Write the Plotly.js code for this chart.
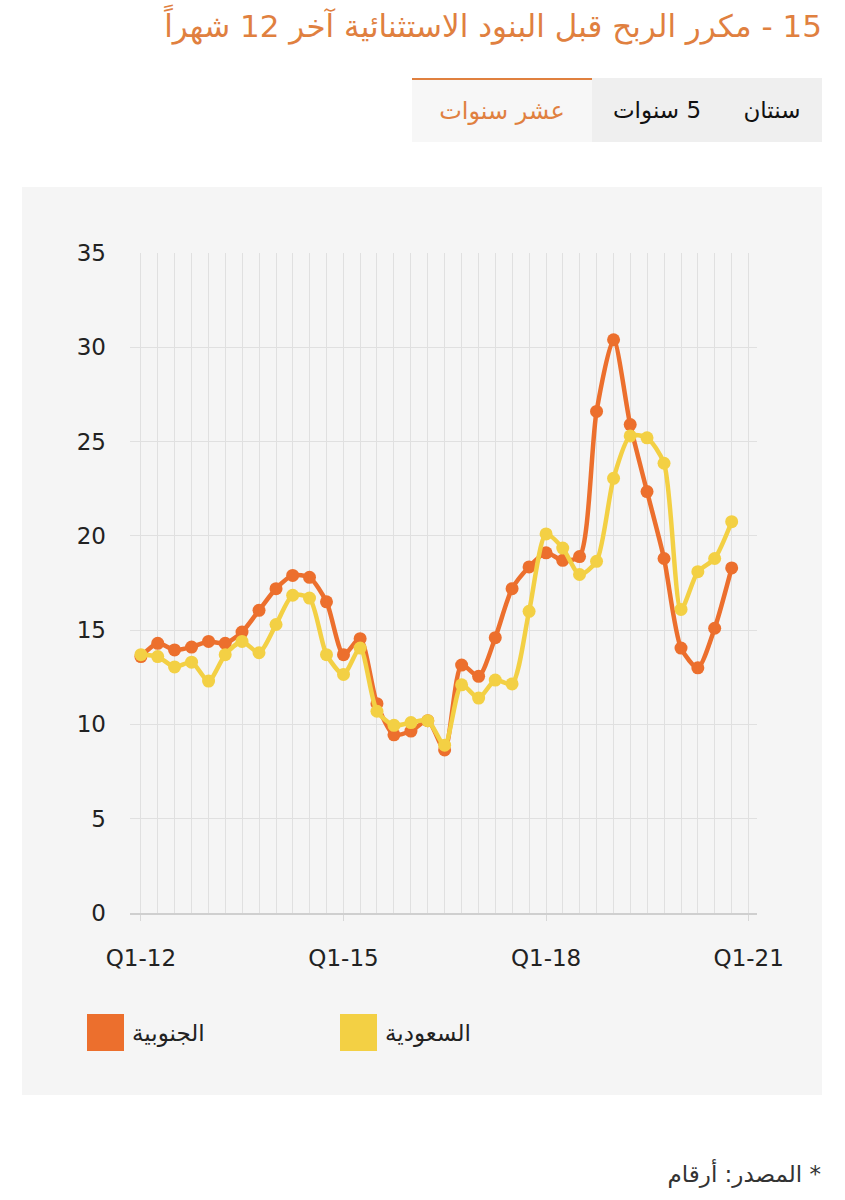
<!DOCTYPE html>
<html lang="ar">
<head>
<meta charset="utf-8">
<script src="https://cdn.plot.ly/plotly-3.0.1.min.js"></script>
<style>
  html, body { margin:0; padding:0; background:#ffffff; width:845px; height:1200px; overflow:hidden; font-family:"DejaVu Sans",sans-serif; }
  #title { position:absolute; right:23px; top:4px; width:820px; text-align:right; direction:rtl; color:#e0803f; font-size:31px; line-height:44px; white-space:nowrap; }
  #tabs { position:absolute; left:412px; top:78px; width:410px; height:64px; direction:rtl; display:flex; }
  .tab { height:64px; display:flex; align-items:center; justify-content:center; background:#efefef; color:#111; font-size:23px; box-sizing:border-box; }
  .tab.active { background:#f7f7f7; color:#e0803f; border-top:2px solid #e0803f; font-size:24px; }
  #panel { position:absolute; left:22px; top:187px; width:800px; height:908px; background:#f5f5f5; }
  #chart { width:800px; height:908px; }
  #source { position:absolute; right:24px; top:1161px; direction:rtl; font-size:23px; color:#333; white-space:nowrap; }
</style>
</head>
<body>
<div id="title"></div>
<div id="tabs"></div>
<div id="panel"><div id="chart"></div></div>
<div id="source"></div>
<script>
// ---- text ----
const chartTitle = "15 - مكرر الربح قبل البنود الاستثنائية آخر 12 شهراً";
const tabLabels = ["سنتان", "5 سنوات", "عشر سنوات"];
const activeTab = "عشر سنوات";
const sourceText = "* المصدر: أرقام";

// ---- data ----
const quarterDates = [
  "2012-01-01","2012-04-01","2012-07-01","2012-10-01",
  "2013-01-01","2013-04-01","2013-07-01","2013-10-01",
  "2014-01-01","2014-04-01","2014-07-01","2014-10-01",
  "2015-01-01","2015-04-01","2015-07-01","2015-10-01",
  "2016-01-01","2016-04-01","2016-07-01","2016-10-01",
  "2017-01-01","2017-04-01","2017-07-01","2017-10-01",
  "2018-01-01","2018-04-01","2018-07-01","2018-10-01",
  "2019-01-01","2019-04-01","2019-07-01","2019-10-01",
  "2020-01-01","2020-04-01","2020-07-01","2020-10-01"
];
const seriesNames = ["الجنوبية", "السعودية"];
const southernValues = [
  13.6, 14.3, 13.95, 14.1, 14.4, 14.3, 14.9, 16.05, 17.2, 17.9, 17.8, 16.5,
  13.7, 14.55, 11.1, 9.45, 9.65, 10.2, 8.65, 13.15, 12.55, 14.6, 17.2, 18.35,
  19.1, 18.7, 18.9, 26.6, 30.4, 25.9, 22.35, 18.8, 14.05, 13.0, 15.1, 18.3
];
const saudiValues = [
  13.7, 13.6, 13.05, 13.3, 12.3, 13.7, 14.4, 13.8, 15.3, 16.85, 16.7, 13.7,
  12.65, 14.05, 10.7, 9.95, 10.1, 10.2, 8.9, 12.1, 11.4, 12.35, 12.15, 16.0,
  20.1, 19.35, 17.95, 18.65, 23.05, 25.3, 25.2, 23.85, 16.1, 18.1, 18.8, 20.75
];
const tickDates = ["2012-01-01", "2015-01-01", "2018-01-01", "2021-01-01"];
const tickLabels = ["Q1-12", "Q1-15", "Q1-18", "Q1-21"];
const seriesColors = ["#ec6f2d", "#f3d044"];

// ---- html text ----
document.getElementById("title").textContent = chartTitle;
const tabWidths = {"سنتان":100, "5 سنوات":130, "عشر سنوات":180};
const tabsEl = document.getElementById("tabs");
tabLabels.forEach(t => {
  const d = document.createElement("div");
  d.className = "tab" + (t === activeTab ? " active" : "");
  d.style.width = tabWidths[t] + "px";
  d.textContent = t;
  tabsEl.appendChild(d);
});
document.getElementById("source").textContent = sourceText;

// ---- chart ----
const W = 800, H = 908, L = 108, R = 65, T = 66, B = 182;
const pw = W - L - R, ph = H - T - B;
const px = x => (x - L) / pw;
const py = y => (H - B - y) / ph;

const font = {family: "DejaVu Sans, sans-serif", size: 23, color: "#222"};
const traces = [southernValues, saudiValues].map((vals, i) => ({
  type: "scatter", mode: "lines+markers", name: seriesNames[i],
  x: quarterDates, y: vals,
  line: {color: seriesColors[i], width: 4.5, shape: "spline", smoothing: 0.7},
  marker: {color: seriesColors[i], size: 13},
  showlegend: false, hoverinfo: "x+y"
}));

const legendX = [65, 318];
const shapes = [], annotations = [];
seriesNames.forEach((n, i) => {
  shapes.push({type: "rect", xref: "paper", yref: "paper",
    x0: px(legendX[i]), x1: px(legendX[i] + 37), y0: py(864), y1: py(827),
    fillcolor: seriesColors[i], line: {width: 0}});
  annotations.push({xref: "paper", yref: "paper", x: px(legendX[i] + 43), y: py(846),
    xanchor: "left", yanchor: "middle", text: n, showarrow: false,
    font: {family: "DejaVu Sans, sans-serif", size: 23, color: "#222"}});
});

const layout = {
  width: W, height: H,
  margin: {l: L, r: R, t: T, b: B},
  paper_bgcolor: "#f5f5f5", plot_bgcolor: "#f5f5f5",
  font: font,
  xaxis: {
    type: "date", range: ["2011-11-03", "2021-02-15"],
    tickmode: "array", tickvals: tickDates, ticktext: tickLabels,
    showgrid: true, gridcolor: "#e0e0e0", gridwidth: 1,
    minor: {tickmode: "linear", tick0: "2012-01-01", dtick: "M3", showgrid: true, gridcolor: "#e0e0e0", gridwidth: 1},
    showline: true, linecolor: "#cfcfcf", linewidth: 1.5,
    ticks: "outside", ticklen: 6, tickcolor: "#d8d8d8",
    ticklabelstandoff: 18, zeroline: false, fixedrange: true,
    tickfont: font
  },
  yaxis: {
    range: [0, 35], tickmode: "linear", tick0: 0, dtick: 5,
    showgrid: true, gridcolor: "#e0e0e0", gridwidth: 1,
    zeroline: false, showline: false, ticks: "",
    ticklabelstandoff: 23, fixedrange: true, tickfont: font
  },
  shapes: shapes, annotations: annotations,
  hovermode: false
};
Plotly.newPlot("chart", traces, layout, {displayModeBar: false, staticPlot: true});
</script>
</body>
</html>
